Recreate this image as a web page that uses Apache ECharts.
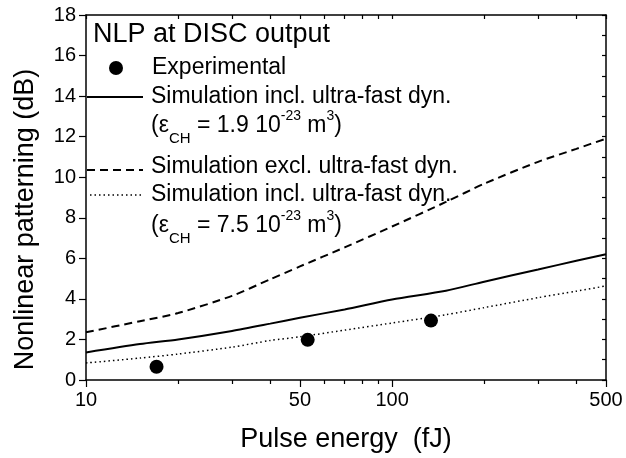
<!DOCTYPE html>
<html><head><meta charset="utf-8">
<script src="https://cdn.jsdelivr.net/npm/echarts@6/dist/echarts.min.js"></script>
<style>html,body{margin:0;padding:0;background:#fff}#c{width:626px;height:458px}</style>
</head><body><div id="c"></div>
<script>
// ---- data ----
const energyGrid = [10, 15, 20, 30, 40, 50, 70, 100, 150, 200, 300, 400, 500];
const simInclLow = [1.36, 1.77, 2.0, 2.42, 2.78, 3.07, 3.48, 3.97, 4.40, 4.85, 5.45, 5.88, 6.2];
const simExcl = [2.35, 2.9, 3.3, 4.15, 4.97, 5.6, 6.54, 7.57, 8.78, 9.68, 10.76, 11.4, 11.9];
const simInclHigh = [0.84, 1.08, 1.28, 1.62, 1.95, 2.13, 2.46, 2.81, 3.22, 3.57, 4.06, 4.38, 4.64];
const expEnergy = [17, 53, 134];
const expNLP = [0.65, 1.98, 2.93];
const xMajorTicks = [10, 50, 100, 500];
const xMinorTicks = [20, 30, 40, 60, 70, 80, 90, 200, 300, 400];
const xAllTicks = [10, 20, 30, 40, 50, 60, 70, 80, 90, 100, 200, 300, 400, 500];

const FONT = '"Liberation Sans", Arial, sans-serif';
const pairs = (xs, ys) => xs.map((x, i) => [x, ys[i]]);

const chart = echarts.init(document.getElementById('c'), null, {renderer: 'canvas'});
const axisLine = {show: true, onZero: false, lineStyle: {color: '#000', width: 1.5}};
const tickStyle = {color: '#000', width: 1.2};

const rich = {
  sub: {fontSize: 15, fontFamily: FONT, color: '#000', padding: [26, 0, 0, 0]},
  sup: {fontSize: 14, fontFamily: FONT, color: '#000', padding: [0, 0, 20, 0]}
};

chart.setOption({
  animation: false,
  backgroundColor: '#fff',
  grid: {left: 86, right: 20, top: 15, bottom: 77, containLabel: false},
  xAxis: [
    {type: 'log', logBase: 10, min: 10, max: 500, position: 'bottom',
     axisLine: axisLine,
     axisTick: {show: true, inside: false, length: 7, customValues: xMajorTicks, lineStyle: tickStyle},
     axisLabel: {show: true, customValues: xMajorTicks, fontSize: 20, color: '#000', fontFamily: FONT, margin: 10,
                 formatter: v => String(Math.round(v))},
     splitLine: {show: false}, minorTick: {show: false}, minorSplitLine: {show: false},
     name: 'Pulse energy  (fJ)', nameLocation: 'middle', nameGap: 46,
     nameTextStyle: {fontSize: 27, color: '#000', fontFamily: FONT}},
    {type: 'log', logBase: 10, min: 10, max: 500, position: 'bottom',
     axisLine: {show: false},
     axisTick: {show: true, inside: false, length: 4, customValues: xMinorTicks, lineStyle: tickStyle},
     axisLabel: {show: false}, splitLine: {show: false}},
    {type: 'log', logBase: 10, min: 10, max: 500, position: 'top',
     axisLine: axisLine,
     axisTick: {show: true, inside: true, length: 4, customValues: xAllTicks, lineStyle: tickStyle},
     axisLabel: {show: false}, splitLine: {show: false}}
  ],
  yAxis: [
    {type: 'value', min: 0, max: 18, interval: 2, position: 'left',
     axisLine: axisLine,
     axisTick: {show: true, inside: false, length: 7, lineStyle: tickStyle},
     axisLabel: {fontSize: 20, color: '#000', fontFamily: FONT, margin: 10},
     splitLine: {show: false},
     name: 'Nonlinear patterning (dB)', nameLocation: 'middle', nameGap: 47,
     nameTextStyle: {fontSize: 27, color: '#000', fontFamily: FONT, padding: [0, 44, 0, 0]}},
    {type: 'value', min: 0, max: 18, interval: 1, position: 'right',
     axisLine: axisLine,
     axisTick: {show: true, inside: true, length: 4, lineStyle: tickStyle},
     axisLabel: {show: false}, splitLine: {show: false}}
  ],
  series: [
    {name: 'Simulation excl. ultra-fast dyn.', type: 'line', xAxisIndex: 0, yAxisIndex: 0,
     data: pairs(energyGrid, simExcl), showSymbol: false, symbol: 'none', smooth: 0.25,
     lineStyle: {color: '#000', width: 2, type: [8, 5]}},
    {name: 'Simulation incl. ultra-fast dyn. (1.9)', type: 'line', xAxisIndex: 0, yAxisIndex: 0,
     data: pairs(energyGrid, simInclLow), showSymbol: false, symbol: 'none', smooth: 0.25,
     lineStyle: {color: '#000', width: 2, type: 'solid'}},
    {name: 'Simulation incl. ultra-fast dyn. (7.5)', type: 'line', xAxisIndex: 0, yAxisIndex: 0,
     data: pairs(energyGrid, simInclHigh), showSymbol: false, symbol: 'none', smooth: 0.25,
     lineStyle: {color: '#000', width: 1.5, type: [1.5, 3]}},
    {name: 'Experimental', type: 'scatter', xAxisIndex: 0, yAxisIndex: 0,
     data: pairs(expEnergy, expNLP), symbol: 'circle', symbolSize: 14,
     itemStyle: {color: '#000', opacity: 1}}
  ],
  graphic: [
    {type: 'text', x: 93, y: 35, style: {text: 'NLP at DISC output', font: '27px ' + FONT, fill: '#000', verticalAlign: 'middle'}},
    {type: 'circle', shape: {cx: 116, cy: 68, r: 7}, style: {fill: '#000'}},
    {type: 'text', x: 152, y: 68, style: {text: 'Experimental', font: '23px ' + FONT, fill: '#000', verticalAlign: 'middle'}},
    {type: 'line', shape: {x1: 87, y1: 97, x2: 143, y2: 97}, style: {stroke: '#000', lineWidth: 2}},
    {type: 'text', x: 151, y: 97, style: {text: 'Simulation incl. ultra-fast dyn.', font: '23px ' + FONT, fill: '#000', verticalAlign: 'middle'}},
    {type: 'text', x: 151, y: 126, style: {text: '(ε{sub|CH} = 1.9 10{sup|-23} m{sup|3})', font: '23px ' + FONT, fill: '#000', verticalAlign: 'middle', rich: rich}},
    {type: 'line', shape: {x1: 87, y1: 170, x2: 143, y2: 170}, style: {stroke: '#000', lineWidth: 2, lineDash: [8, 5]}},
    {type: 'text', x: 151, y: 167, style: {text: 'Simulation excl. ultra-fast dyn.', font: '23px ' + FONT, fill: '#000', verticalAlign: 'middle'}},
    {type: 'line', shape: {x1: 90, y1: 195, x2: 141, y2: 195}, style: {stroke: '#000', lineWidth: 1.3, lineDash: [1.5, 3]}},
    {type: 'text', x: 151, y: 195, style: {text: 'Simulation incl. ultra-fast dyn.', font: '23px ' + FONT, fill: '#000', verticalAlign: 'middle'}},
    {type: 'text', x: 151, y: 226, style: {text: '(ε{sub|CH} = 7.5 10{sup|-23} m{sup|3})', font: '23px ' + FONT, fill: '#000', verticalAlign: 'middle', rich: rich}}
  ]
});
</script></body></html>
